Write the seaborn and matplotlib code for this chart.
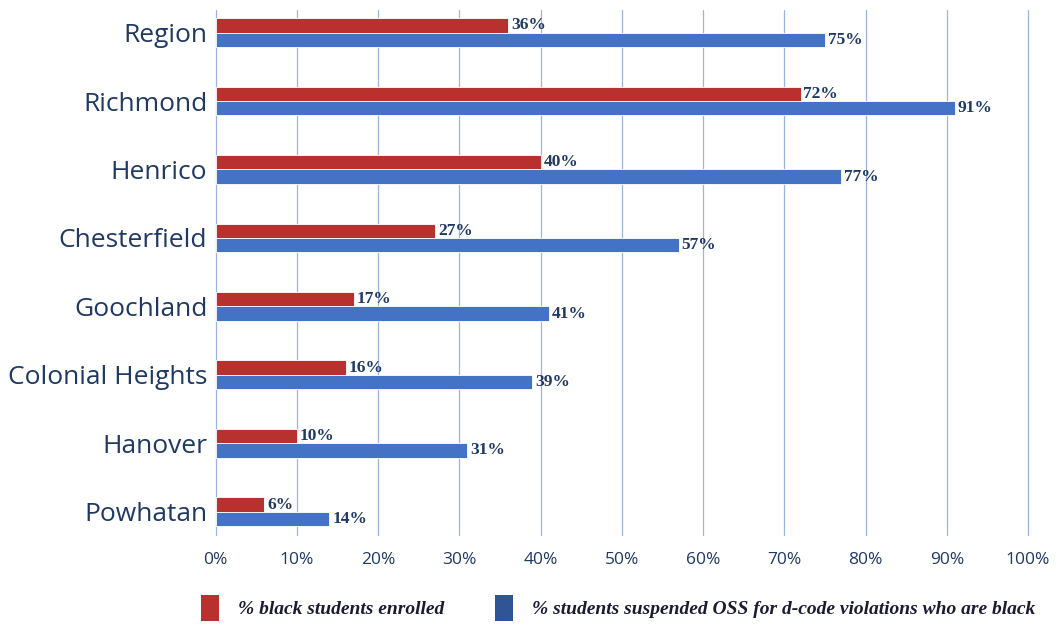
import pandas as pd
import matplotlib.pyplot as plt
import seaborn as sns
from matplotlib.patches import Patch

# --- data ---
districts = ["Region", "Richmond", "Henrico", "Chesterfield", "Goochland",
             "Colonial Heights", "Hanover", "Powhatan"]
enrolled = [36, 72, 40, 27, 17, 16, 10, 6]
suspended = [75, 91, 77, 57, 41, 39, 31, 14]
series_names = ["% black students enrolled",
                "% students suspended OSS for d-code violations who are black"]
x_ticks = [0, 10, 20, 30, 40, 50, 60, 70, 80, 90, 100]

red = "#B8312F"
blue = "#4472C4"
legend_blue = "#2F5597"
navy = "#1F3864"
grid_col = "#9DB4E0"

df = pd.DataFrame({
    "district": districts * 2,
    "value": enrolled + suspended,
    "series": [series_names[0]] * len(districts) + [series_names[1]] * len(districts),
})

sns.set_style("white")
fig = plt.figure(figsize=(10.57, 6.25), dpi=100)
ax = fig.add_axes([0.204, 0.144, 0.7686, 0.840])

sns.barplot(data=df, y="district", x="value", hue="series", order=districts,
            hue_order=series_names, palette=[red, blue], width=0.42,
            orient="h", ax=ax, legend=False, saturation=1,
            edgecolor="white", linewidth=0.6)

for cont in ax.containers:
    ax.bar_label(cont, fmt="%d%%", padding=2, color=navy, fontsize=12.5,
                 fontweight="bold", family="Liberation Serif")

ax.set_xlim(0, 100)
ax.set_ylim(7.34, -0.33)
ax.set_xticks(x_ticks)
ax.set_xticklabels([f"{t}%" for t in x_ticks], color=navy, fontsize=12.5,
                   family="Open Sans")
ax.tick_params(axis="x", length=0, pad=12)
ax.tick_params(axis="y", length=0, pad=6)
for lab in ax.get_yticklabels():
    lab.set_color(navy)
    lab.set_fontsize(19)
    lab.set_family("Open Sans")
ax.set_xlabel("")
ax.set_ylabel("")
ax.grid(axis="x", color=grid_col, linewidth=0.9)
for gl in ax.get_xgridlines():
    gl.set_clip_on(False)
ax.set_axisbelow(True)
for s in ax.spines.values():
    s.set_visible(False)

handles = [Patch(facecolor=red, edgecolor="none"),
           Patch(facecolor=legend_blue, edgecolor="none")]
fig.legend(handles, series_names, loc="center", bbox_to_anchor=(0.585, 0.027),
           ncol=2, frameon=False, handlelength=0.9, handleheight=1.7,
           columnspacing=2.6, handletextpad=1.0, labelcolor="#1a1a33",
           prop={"family": "Liberation Serif", "style": "italic",
                 "weight": "bold", "size": 14})

fig.savefig("out.png", dpi=100)
